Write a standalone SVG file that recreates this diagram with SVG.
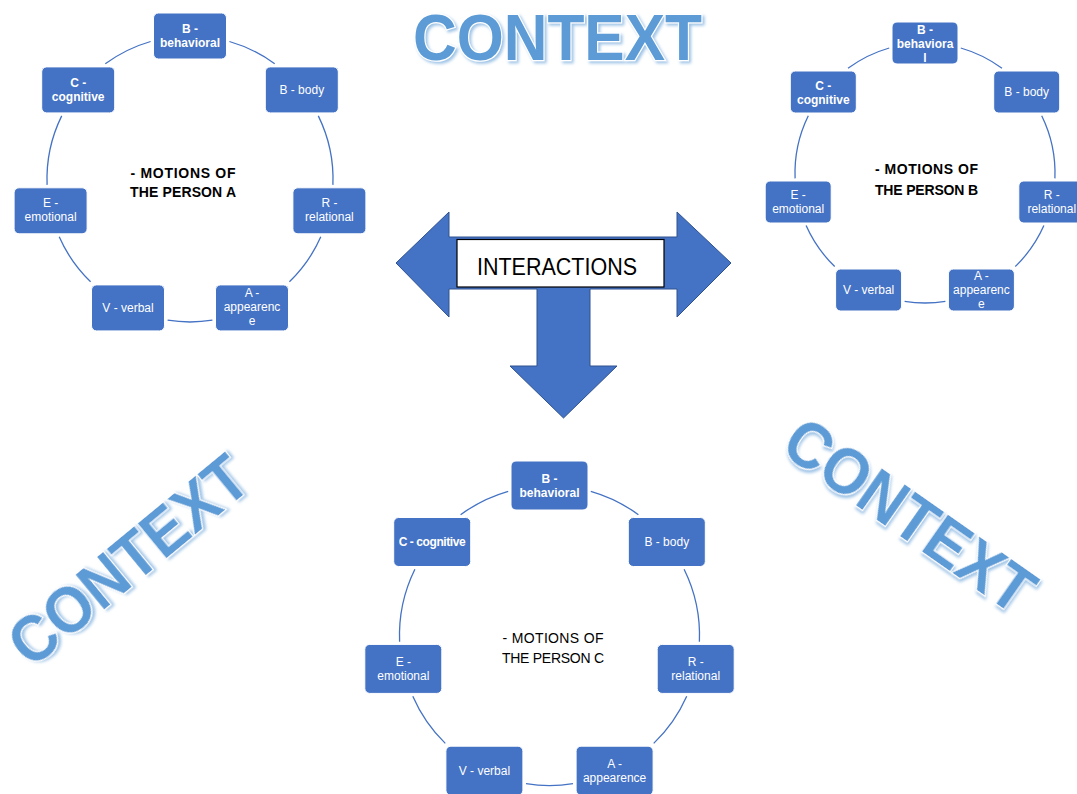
<svg xmlns="http://www.w3.org/2000/svg" width="1077" height="794" viewBox="0 0 1077 794">
<style>
.box{fill:#4472C4;stroke:#fff;stroke-width:1}
.lbl{font-family:"Liberation Sans",Arial,sans-serif;font-size:12px;fill:#fff;text-anchor:middle}
.b{font-weight:bold}
.arc{fill:none;stroke:#4472C4;stroke-width:1.3}
.ctx{font-family:"Liberation Sans",Arial,sans-serif;font-weight:bold;font-size:64px;fill:#5B9BD5;stroke:#fff;stroke-width:2.5;paint-order:stroke;text-anchor:middle}
.mid{font-family:"Liberation Sans",Arial,sans-serif;font-size:14px;fill:#000;text-anchor:middle}
</style>
<defs>
<filter id="glow" x="-15%" y="-30%" width="130%" height="160%">
<feGaussianBlur in="SourceAlpha" stdDeviation="1.6" result="bl"/>
<feOffset in="bl" dx="1.5" dy="2" result="of"/>
<feFlood flood-color="#9DC3E6"/>
<feComposite in2="of" operator="in" result="sh"/>
<feMerge><feMergeNode in="sh"/><feMergeNode in="SourceGraphic"/></feMerge>
</filter>
</defs>
<rect width="1077" height="794" fill="#fff"/>

<g id="connectors">
<g id="cycleA-arcs">
<path class="arc" d="M229.4,41.5 A143,143 0 0 1 274.7,63.8"/>
<path class="arc" d="M318.3,115.9 A143,143 0 0 1 332.9,184.9"/>
<path class="arc" d="M320.8,236.8 A143,143 0 0 1 289.4,281.8"/>
<path class="arc" d="M212.4,320.2 A143,143 0 0 1 167.6,320.2"/>
<path class="arc" d="M90.6,281.8 A143,143 0 0 1 59.2,236.8"/>
<path class="arc" d="M47.1,184.9 A143,143 0 0 1 61.7,115.9"/>
<path class="arc" d="M105.3,63.8 A143,143 0 0 1 150.6,41.5"/>
</g>
<g id="cycleB-arcs">
<path class="arc" d="M960.8,48 A130,130 0 0 1 1002,68.3"/>
<path class="arc" d="M1041.7,115.7 A130,130 0 0 1 1054.9,178.4"/>
<path class="arc" d="M1043.9,225.6 A130,130 0 0 1 1015.3,266.5"/>
<path class="arc" d="M945.4,301.4 A130,130 0 0 1 904.6,301.4"/>
<path class="arc" d="M834.7,266.5 A130,130 0 0 1 806.1,225.6"/>
<path class="arc" d="M795.1,178.4 A130,130 0 0 1 808.3,115.7"/>
<path class="arc" d="M848,68.3 A130,130 0 0 1 889.2,48"/>
</g>
<g id="cycleC-arcs">
<path class="arc" d="M590.8,491.3 A150,150 0 0 1 638.4,514.7"/>
<path class="arc" d="M684.1,569.3 A150,150 0 0 1 699.4,641.7"/>
<path class="arc" d="M686.7,696.2 A150,150 0 0 1 653.7,743.4"/>
<path class="arc" d="M573,783.7 A150,150 0 0 1 526,783.7"/>
<path class="arc" d="M445.3,743.4 A150,150 0 0 1 412.8,696.2"/>
<path class="arc" d="M399.6,641.7 A150,150 0 0 1 414.9,569.3"/>
<path class="arc" d="M460.6,514.7 A150,150 0 0 1 508.2,491.3"/>
</g>
</g>

<!-- Cycle A -->
<g id="a-behavioral"><rect class="box" x="153.5" y="13" width="73" height="46" rx="5"/><text class="lbl b" x="190" y="33">B -</text><text class="lbl b" x="190" y="47">behavioral</text></g>
<g id="a-body"><rect class="box" x="265.3" y="66.9" width="73" height="46" rx="5"/><text class="lbl" x="301.8" y="94">B - body</text></g>
<g id="a-relational"><rect class="box" x="292.9" y="187.8" width="73" height="46" rx="5"/><text class="lbl" x="329.4" y="207">R -</text><text class="lbl" x="329.4" y="221">relational</text></g>
<g id="a-appearence"><rect class="box" x="215.5" y="284.9" width="73" height="46" rx="5"/><text class="lbl" x="252" y="297">A -</text><text class="lbl" x="252" y="311">appearenc</text><text class="lbl" x="252" y="325">e</text></g>
<g id="a-verbal"><rect class="box" x="91.5" y="284.9" width="73" height="46" rx="5"/><text class="lbl" x="128" y="312">V - verbal</text></g>
<g id="a-emotional"><rect class="box" x="14.1" y="187.8" width="73" height="46" rx="5"/><text class="lbl" x="50.6" y="207">E -</text><text class="lbl" x="50.6" y="221">emotional</text></g>
<g id="a-cognitive"><rect class="box" x="41.7" y="66.9" width="73" height="46" rx="5"/><text class="lbl b" x="78.2" y="87">C -</text><text class="lbl b" x="78.2" y="101">cognitive</text></g>
<g id="a-center"><text class="mid b" x="183" y="178" textLength="105">- MOTIONS OF</text><text class="mid b" x="183" y="197" textLength="106">THE PERSON A</text></g>

<!-- Cycle B -->
<g id="b-behavioral"><rect class="box" x="892" y="22" width="66" height="42" rx="5"/><text class="lbl b" x="925" y="34">B -</text><text class="lbl b" x="925" y="48">behaviora</text><text class="lbl b" x="925" y="62">l</text></g>
<g id="b-body"><rect class="box" x="993.7" y="71" width="66" height="42" rx="5"/><text class="lbl" x="1026.7" y="96">B - body</text></g>
<g id="b-relational"><rect class="box" x="1018.8" y="181" width="66" height="42" rx="5"/><text class="lbl" x="1051.8" y="199">R -</text><text class="lbl" x="1051.8" y="213">relational</text></g>
<g id="b-appearence"><rect class="box" x="948.4" y="269" width="66" height="42" rx="5"/><text class="lbl" x="981.4" y="280">A -</text><text class="lbl" x="981.4" y="294">appearenc</text><text class="lbl" x="981.4" y="308">e</text></g>
<g id="b-verbal"><rect class="box" x="835.6" y="269" width="66" height="42" rx="5"/><text class="lbl" x="868.6" y="294">V - verbal</text></g>
<g id="b-emotional"><rect class="box" x="765.2" y="181" width="66" height="42" rx="5"/><text class="lbl" x="798.2" y="199">E -</text><text class="lbl" x="798.2" y="213">emotional</text></g>
<g id="b-cognitive"><rect class="box" x="790.3" y="71" width="66" height="42" rx="5"/><text class="lbl b" x="823.3" y="90">C -</text><text class="lbl b" x="823.3" y="104">cognitive</text></g>
<g id="b-center"><text class="mid b" x="926.5" y="174" textLength="103">- MOTIONS OF</text><text class="mid b" x="926.5" y="195" textLength="103">THE PERSON B</text></g>

<!-- Cycle C -->
<g id="c-behavioral"><rect class="box" x="511" y="461" width="77" height="49" rx="5"/><text class="lbl b" x="549.5" y="482.5">B -</text><text class="lbl b" x="549.5" y="496.5">behavioral</text></g>
<g id="c-body"><rect class="box" x="628.3" y="517.5" width="77" height="49" rx="5"/><text class="lbl" x="666.8" y="546">B - body</text></g>
<g id="c-relational"><rect class="box" x="657.2" y="644.4" width="77" height="49" rx="5"/><text class="lbl" x="695.7" y="666">R -</text><text class="lbl" x="695.7" y="680">relational</text></g>
<g id="c-appearence"><rect class="box" x="576.1" y="746.2" width="77" height="49" rx="5"/><text class="lbl" x="614.6" y="767.5">A -</text><text class="lbl" x="614.6" y="781.5">appearence</text></g>
<g id="c-verbal"><rect class="box" x="445.9" y="746.2" width="77" height="49" rx="5"/><text class="lbl" x="484.4" y="775">V - verbal</text></g>
<g id="c-emotional"><rect class="box" x="364.8" y="644.4" width="77" height="49" rx="5"/><text class="lbl" x="403.3" y="666">E -</text><text class="lbl" x="403.3" y="680">emotional</text></g>
<g id="c-cognitive"><rect class="box" x="393.7" y="517.5" width="77" height="49" rx="5"/><text class="lbl b" x="432.2" y="546" textLength="67">C - cognitive</text></g>
<g id="c-center"><text class="mid" x="553" y="643" textLength="101">- MOTIONS OF</text><text class="mid" x="553" y="663" textLength="102">THE PERSON C</text></g>

<!-- Interactions arrow -->
<g id="interactions">
<path d="M396,263 L449,212 L449,237 L677,237 L677,212 L731,263 L677,317 L677,289 L590,289 L590,366 L617,366 L563.5,418 L510,366 L537,366 L537,289 L449,289 L449,317 Z" fill="#4472C4" stroke="#2F528F" stroke-width="1"/>
<rect x="457" y="239.5" width="207" height="47.5" fill="#fff" stroke="#000" stroke-width="1.2"/>
<text x="557" y="275" font-family="'Liberation Sans',Arial,sans-serif" font-size="23" fill="#000" text-anchor="middle" textLength="160" lengthAdjust="spacingAndGlyphs">INTERACTIONS</text>
</g>

<!-- Context labels -->
<g id="context-top"><text class="ctx" x="557.5" y="60" textLength="289" lengthAdjust="spacingAndGlyphs" filter="url(#glow)">CONTEXT</text></g>
<g id="context-left" transform="translate(128,560) rotate(-39.5)"><text class="ctx" x="0" y="23" textLength="289" lengthAdjust="spacingAndGlyphs" filter="url(#glow)">CONTEXT</text></g>
<g id="context-right" transform="translate(910,515) rotate(35)"><text class="ctx" x="0" y="23" textLength="289" lengthAdjust="spacingAndGlyphs" filter="url(#glow)">CONTEXT</text></g>
</svg>
